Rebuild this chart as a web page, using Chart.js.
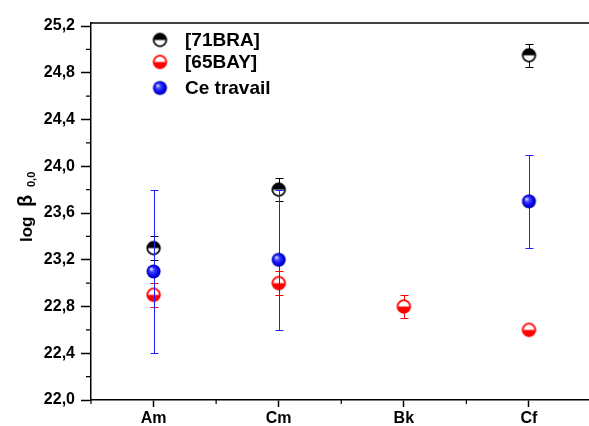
<!DOCTYPE html>
<html>
<head>
<meta charset="utf-8">
<script src="https://cdn.jsdelivr.net/npm/chart.js@4.4.0/dist/chart.umd.min.js"></script>
<style>
  body { margin: 0; background: #fff; }
  canvas { display: block; }
</style>
</head>
<body>
<canvas id="myChart" width="589" height="426"></canvas>
<script>
// datos
const categories = ['Am', 'Cm', 'Bk', 'Cf'];
const bra71 = [23.3, 23.8, null, 24.95];
const bra71Err = [0.1, 0.1, null, 0.1];
const bay65 = [22.9, 23.0, 22.8, 22.6];
const bay65Err = [0.1, 0.1, 0.1, 0.02];
const ceTravail = [23.1, 23.2, null, 23.7];
const ceTravailErr = [0.7, 0.6, null, 0.4];
const yTicks = [22.0, 22.4, 22.8, 23.2, 23.6, 24.0, 24.4, 24.8, 25.2];
const xTicks = [1, 2, 3, 4];

const FONT = "'Liberation Sans', Arial, sans-serif";

function toPoints(values, errs) {
  const pts = [];
  values.forEach((v, i) => {
    if (v !== null) pts.push({ x: i + 1, y: v, e: errs[i] });
  });
  return pts;
}

// símbolos tipo Origin
function halfCircle(color, topFilled) {
  const c = document.createElement('canvas');
  c.width = 17; c.height = 17;
  const g = c.getContext('2d');
  const cx = 8.5, cy = 8.5, r = 6.3;
  g.fillStyle = '#fff';
  g.beginPath(); g.arc(cx, cy, r, 0, Math.PI * 2); g.fill();
  g.fillStyle = color;
  g.beginPath();
  if (topFilled) g.arc(cx, cy, r, Math.PI, Math.PI * 2);
  else g.arc(cx, cy, r, 0, Math.PI);
  g.closePath(); g.fill();
  g.strokeStyle = color; g.lineWidth = 1.8;
  g.beginPath(); g.arc(cx, cy, r, 0, Math.PI * 2); g.stroke();
  return c;
}

function sphere() {
  const c = document.createElement('canvas');
  c.width = 17; c.height = 17;
  const g = c.getContext('2d');
  const cx = 8.5, cy = 8.5, r = 7;
  const grad = g.createRadialGradient(cx - 2.5, cy - 2.5, 0.5, cx, cy, r);
  grad.addColorStop(0, '#d8d8ff');
  grad.addColorStop(0.3, '#4040ff');
  grad.addColorStop(0.75, '#0000f0');
  grad.addColorStop(1, '#000090');
  g.fillStyle = grad;
  g.beginPath(); g.arc(cx, cy, r, 0, Math.PI * 2); g.fill();
  return c;
}

const symBra = halfCircle('#000', true);
const symBay = halfCircle('#ff0000', false);
const symCe = sphere();

const errorBars = {
  id: 'errorBars',
  beforeDatasetDraw(chart, args) {
    const ds = chart.data.datasets[args.index];
    const ctx = chart.ctx;
    const xs = chart.scales.x, ys = chart.scales.y;
    ctx.save();
    ctx.strokeStyle = ds.errColor;
    ctx.lineWidth = 1;
    ds.data.forEach(p => {
      if (p.e == null) return;
      const px = Math.round(xs.getPixelForValue(p.x)) + 0.5;
      const t = Math.round(ys.getPixelForValue(p.y + p.e)) + 0.5;
      const b = Math.round(ys.getPixelForValue(p.y - p.e)) + 0.5;
      ctx.beginPath();
      ctx.moveTo(px, t); ctx.lineTo(px, b);
      ctx.moveTo(px - 4, t); ctx.lineTo(px + 4, t);
      ctx.moveTo(px - 4, b); ctx.lineTo(px + 4, b);
      ctx.stroke();
    });
    ctx.restore();
  }
};

const decorations = {
  id: 'decorations',
  afterDraw(chart) {
    const ctx = chart.ctx;
    const a = chart.chartArea;
    const xs = chart.scales.x, ys = chart.scales.y;
    ctx.save();
    ctx.strokeStyle = '#000';
    ctx.lineWidth = 1.5;
    // marco superior
    ctx.beginPath();
    ctx.moveTo(a.left, a.top); ctx.lineTo(a.right, a.top);
    ctx.stroke();
    // ticks menores
    ctx.lineWidth = 1.2;
    ctx.beginPath();
    for (let i = 0; i < yTicks.length - 1; i++) {
      const py = ys.getPixelForValue((yTicks[i] + yTicks[i + 1]) / 2);
      ctx.moveTo(a.left - 5, py); ctx.lineTo(a.left, py);
    }
    for (let i = 0; i <= xTicks.length; i++) {
      const v = (i === 0 ? xTicks[0] - 0.5 : xTicks[i - 1] + 0.5);
      if (v > xs.max) continue;
      const px = xs.getPixelForValue(v);
      ctx.moveTo(px, a.bottom); ctx.lineTo(px, a.bottom + 4);
    }
    ctx.stroke();

    // título eje Y
    ctx.fillStyle = '#000';
    ctx.translate(32, 242);
    ctx.rotate(-Math.PI / 2);
    ctx.textBaseline = 'alphabetic';
    ctx.textAlign = 'left';
    ctx.font = 'bold 17px ' + FONT;
    ctx.fillText('log', 0, 0);
    ctx.font = 'bold 20px ' + FONT;
    ctx.fillText('β', 35, 0);
    ctx.font = 'bold 11px ' + FONT;
    ctx.fillText('0,0', 55, 3);
    ctx.restore();

    // leyenda
    ctx.save();
    const items = [
      { sym: symBra, text: '[71BRA]', y: 40 },
      { sym: symBay, text: '[65BAY]', y: 62 },
      { sym: symCe, text: 'Ce travail', y: 88 }
    ];
    ctx.font = 'bold 19px ' + FONT;
    ctx.fillStyle = '#000';
    ctx.textBaseline = 'middle';
    items.forEach(it => {
      ctx.drawImage(it.sym, 160 - it.sym.width / 2, it.y - it.sym.height / 2);
      ctx.fillText(it.text, 185, it.y + 1);
    });
    ctx.restore();
  }
};

const ctx = document.getElementById('myChart').getContext('2d');
new Chart(ctx, {
  type: 'scatter',
  data: {
    datasets: [
      {
        label: 'Ce travail',
        data: toPoints(ceTravail, ceTravailErr),
        pointStyle: symCe,
        pointRadius: 7,
        errColor: '#2020ff'
      },
      {
        label: '[65BAY]',
        data: toPoints(bay65, bay65Err),
        pointStyle: symBay,
        pointRadius: 7,
        errColor: '#ff0000'
      },
      {
        label: '[71BRA]',
        data: toPoints(bra71, bra71Err),
        pointStyle: symBra,
        pointRadius: 7,
        errColor: '#000000'
      }
    ]
  },
  options: {
    responsive: false,
    devicePixelRatio: 1,
    animation: false,
    events: [],
    layout: { autoPadding: false, padding: { left: 0, right: 0, top: 23, bottom: 0 } },
    plugins: {
      legend: { display: false },
      tooltip: { enabled: false }
    },
    scales: {
      x: {
        type: 'linear',
        min: 0.5,
        max: 4.48,
        afterBuildTicks: s => { s.ticks = xTicks.map(v => ({ value: v })); },
        afterFit: s => { s.height = 26; },
        ticks: {
          callback: v => categories[v - 1],
          color: '#000',
          font: { family: FONT, size: 16, weight: 'bold' },
          padding: 2,
          maxRotation: 0
        },
        grid: { drawOnChartArea: false, tickLength: 7, tickColor: '#000', tickWidth: 1.5 },
        border: { color: '#000', width: 1.5 }
      },
      y: {
        min: 22,
        max: 25.226,
        afterBuildTicks: s => { s.ticks = yTicks.map(v => ({ value: v })); },
        afterFit: s => { s.width = 91; },
        ticks: {
          callback: v => v.toFixed(1).replace('.', ','),
          color: '#000',
          font: { family: FONT, size: 16, weight: 'bold' },
          padding: 6
        },
        grid: { drawOnChartArea: false, tickLength: 10, tickColor: '#000', tickWidth: 1.5 },
        border: { color: '#000', width: 1.5 }
      }
    }
  },
  plugins: [errorBars, decorations]
});
</script>
</body>
</html>
